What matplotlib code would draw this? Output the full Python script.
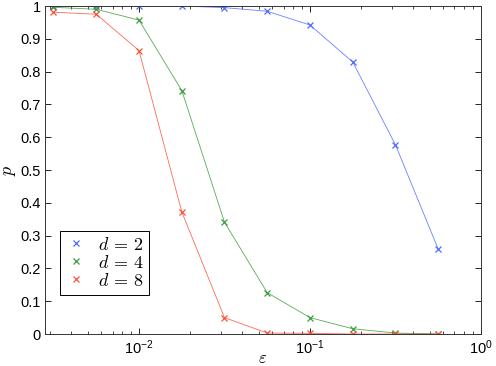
import numpy as np
import matplotlib
matplotlib.use("Agg")
import matplotlib.pyplot as plt
from matplotlib.ticker import FixedLocator, FuncFormatter, LogLocator, NullFormatter

plt.rcParams['font.family'] = ['Liberation Sans', 'DejaVu Sans']
plt.rcParams['mathtext.fontset'] = 'cm'

eps = [0.00316, 0.00562, 0.01, 0.0178, 0.0316, 0.0562, 0.1, 0.178, 0.316, 0.562]
p_d2 = [1.0, 1.0, 1.0, 1.0, 0.995, 0.984, 0.942, 0.829, 0.577, 0.259]
p_d4 = [0.996, 0.99, 0.957, 0.742, 0.341, 0.126, 0.05, 0.016, 0.003, 0.0]
p_d8 = [0.981, 0.975, 0.864, 0.372, 0.05, 0.003, 0.002, 0.0, 0.0, 0.0]
labels = [r'$d\,=\,2$', r'$d\,=\,4$', r'$d\,=\,8$']
colors = ['#4d6dff', '#3c9c3c', '#ff5038']

fig = plt.figure(figsize=(4.96, 3.66), dpi=100)
ax = fig.add_axes([0.0907, 0.0874, 0.879, 0.8962])

for y, lab, c in zip([p_d2, p_d4, p_d8], labels, colors):
    ax.plot(eps, y, color=c, lw=0.6, alpha=0.85)
    ax.plot(eps, y, ls='none', marker='x', ms=5, mew=0.9, color=c, label=lab)

ax.set_xscale('log')
ax.set_xlim(10**-2.55, 1)
ax.set_ylim(0, 1)
ax.xaxis.set_major_locator(FixedLocator([0.01, 0.1, 1]))
ax.xaxis.set_major_formatter(FuncFormatter(lambda v, pos: r'$\mathregular{10^{%d}}$' % round(np.log10(v))))
ax.xaxis.set_minor_locator(LogLocator(base=10, subs=np.arange(2, 10)))
ax.xaxis.set_minor_formatter(NullFormatter())
ax.set_yticks(np.arange(0, 1.01, 0.1))
ax.set_yticklabels(['0'] + ['%.1f' % v for v in np.arange(0.1, 0.95, 0.1)] + ['1'])
ax.tick_params(which='both', direction='in', top=True, right=True, labelsize=10.5)
ax.tick_params(which='major', length=4, width=0.6, pad=3)
ax.tick_params(which='minor', length=2, width=0.5)
for s in ax.spines.values():
    s.set_linewidth(0.7)
    s.set_color('#333333')

ax.set_xlabel(r'$\varepsilon$', fontsize=12, labelpad=-4)
ax.set_ylabel(r'$p$', fontsize=13, labelpad=2)

leg = ax.legend(loc='lower left', bbox_to_anchor=(0.034, 0.119), borderaxespad=0,
                fancybox=False, edgecolor='black', fontsize=13, handlelength=1.2,
                handletextpad=0.6, labelspacing=0.05, borderpad=0.3, framealpha=1)
leg.get_frame().set_linewidth(0.7)

fig.savefig('out.png', dpi=100)
